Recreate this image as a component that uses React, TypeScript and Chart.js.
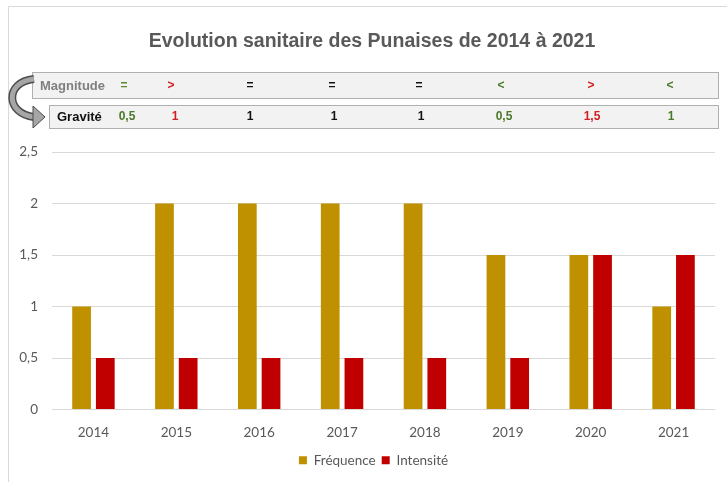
import React, { useEffect, useRef } from "react";
import { Chart, registerables } from "chart.js";

Chart.register(...registerables);

const categories = ["2014", "2015", "2016", "2017", "2018", "2019", "2020", "2021"];
const frequence = [1, 2, 2, 2, 2, 1.5, 1.5, 1];
const intensite = [0.5, 0.5, 0.5, 0.5, 0.5, 0.5, 1.5, 1.5];
const magnitude = ["=", ">", "=", "=", "=", "<", ">", "<"];
const magnitudeColors = ["#5b8a2e", "#d02020", "#111111", "#111111", "#111111", "#4a7a28", "#d02020", "#4a7a28"];
const gravite = ["0,5", "1", "1", "1", "1", "0,5", "1,5", "1"];
const graviteColors = ["#4a7a28", "#d02020", "#111111", "#111111", "#111111", "#4a7a28", "#d02020", "#4a7a28"];
const title = "Evolution sanitaire des Punaises de 2014 à 2021";

const magX = [124, 171, 250, 332, 419, 501, 591, 670];
const gravX = [127, 175, 250, 334, 421, 504, 592, 671];

const FONT = "Lato, 'Noto Sans', sans-serif";

const decorPlugin = {
  id: "decor",
  afterLayout(chart: any) {
    if (chart.legend) {
      chart.legend.left += 16;
      chart.legend.right += 16;
    }
  },
  beforeDraw(chart: any) {
    const ctx = chart.ctx;
    ctx.save();
    ctx.fillStyle = "#ffffff";
    ctx.fillRect(0, 0, chart.width, chart.height);
    ctx.strokeStyle = "#d9d9d9";
    ctx.lineWidth = 1;
    ctx.beginPath();
    ctx.moveTo(8.5, chart.height);
    ctx.lineTo(8.5, 6.5);
    ctx.lineTo(chart.width, 6.5);
    ctx.stroke();
    ctx.restore();
  },
  afterDraw(chart: any) {
    const ctx = chart.ctx;
    ctx.save();
    ctx.fillStyle = "#595959";
    ctx.font = "bold 19.5px 'Liberation Sans', Arial, sans-serif";
    ctx.textAlign = "center";
    ctx.textBaseline = "middle";
    ctx.fillText(title, 372, 42);

    ctx.fillStyle = "#f2f2f2";
    ctx.strokeStyle = "#b0b0b0";
    ctx.lineWidth = 1;
    ctx.fillRect(32, 72, 686, 26);
    ctx.strokeRect(32.5, 72.5, 686, 26);
    ctx.fillRect(49, 105, 669, 23);
    ctx.strokeRect(49.5, 105.5, 669, 23);

    const curve = () => {
      ctx.beginPath();
      ctx.moveTo(34, 79);
      ctx.bezierCurveTo(4, 82, 6, 114, 34, 117);
    };
    curve();
    ctx.strokeStyle = "#4d4d4d";
    ctx.lineWidth = 8;
    ctx.stroke();
    curve();
    ctx.strokeStyle = "#a6a6a6";
    ctx.lineWidth = 5;
    ctx.stroke();
    ctx.beginPath();
    ctx.moveTo(33, 106);
    ctx.lineTo(45, 117);
    ctx.lineTo(33, 128);
    ctx.closePath();
    ctx.fillStyle = "#a6a6a6";
    ctx.fill();
    ctx.strokeStyle = "#4d4d4d";
    ctx.lineWidth = 1;
    ctx.stroke();

    ctx.textAlign = "left";
    ctx.font = "bold 13px 'Liberation Sans', Arial, sans-serif";
    ctx.fillStyle = "#7f7f7f";
    ctx.fillText("Magnitude", 40, 86);
    ctx.fillStyle = "#111111";
    ctx.fillText("Gravité", 57, 117);

    ctx.textAlign = "center";
    ctx.font = "bold 12px 'Liberation Sans', Arial, sans-serif";
    magnitude.forEach((m, i) => {
      ctx.fillStyle = magnitudeColors[i];
      ctx.fillText(m, magX[i], 86);
    });
    gravite.forEach((g, i) => {
      ctx.fillStyle = graviteColors[i];
      ctx.fillText(g, gravX[i], 117);
    });
    ctx.restore();
  },
};

export default function App() {
  const ref = useRef<HTMLCanvasElement | null>(null);
  useEffect(() => {
    if (!ref.current) return;
    const chart = new Chart(ref.current, {
      type: "bar",
      data: {
        labels: categories,
        datasets: [
          { label: "Fréquence", data: frequence, backgroundColor: "#bf9000" },
          { label: "Intensité", data: intensite, backgroundColor: "#c00000" },
        ],
      },
      plugins: [decorPlugin],
      options: {
        animation: false,
        responsive: false,
        devicePixelRatio: 1,
        layout: { padding: { left: 0, right: 12, top: 152, bottom: 5 } },
        datasets: { bar: { categoryPercentage: 0.572, barPercentage: 0.79 } },
        plugins: {
          title: { display: false },
          tooltip: { enabled: false },
          legend: {
            position: "bottom",
            labels: {
              boxWidth: 8,
              boxHeight: 8,
              padding: 6,
              color: "#595959",
              font: { family: FONT, size: 13.5 },
            },
          },
        },
        scales: {
          x: {
            grid: { display: false, drawTicks: false },
            border: { display: false },
            ticks: { color: "#595959", padding: 15, font: { family: FONT, size: 13.5 } },
            afterFit(scale: any) {
              scale.height = 38;
            },
          },
          y: {
            min: 0,
            max: 2.5,
            grid: { color: "#d9d9d9", drawTicks: false },
            border: { display: false },
            ticks: {
              stepSize: 0.5,
              padding: 14,
              color: "#595959",
              font: { family: FONT, size: 13.5 },
              callback: (v: any) => String(v).replace(".", ","),
            },
            afterFit(scale: any) {
              scale.width = 52;
            },
          },
        },
      },
    } as any);
    return () => chart.destroy();
  }, []);
  return (
    <div style={{ position: "fixed", left: 0, top: 0, width: 727, height: 482 }}>
      <canvas ref={ref} width={727} height={482} style={{ width: 727, height: 482, display: "block" }} />
    </div>
  );
}
